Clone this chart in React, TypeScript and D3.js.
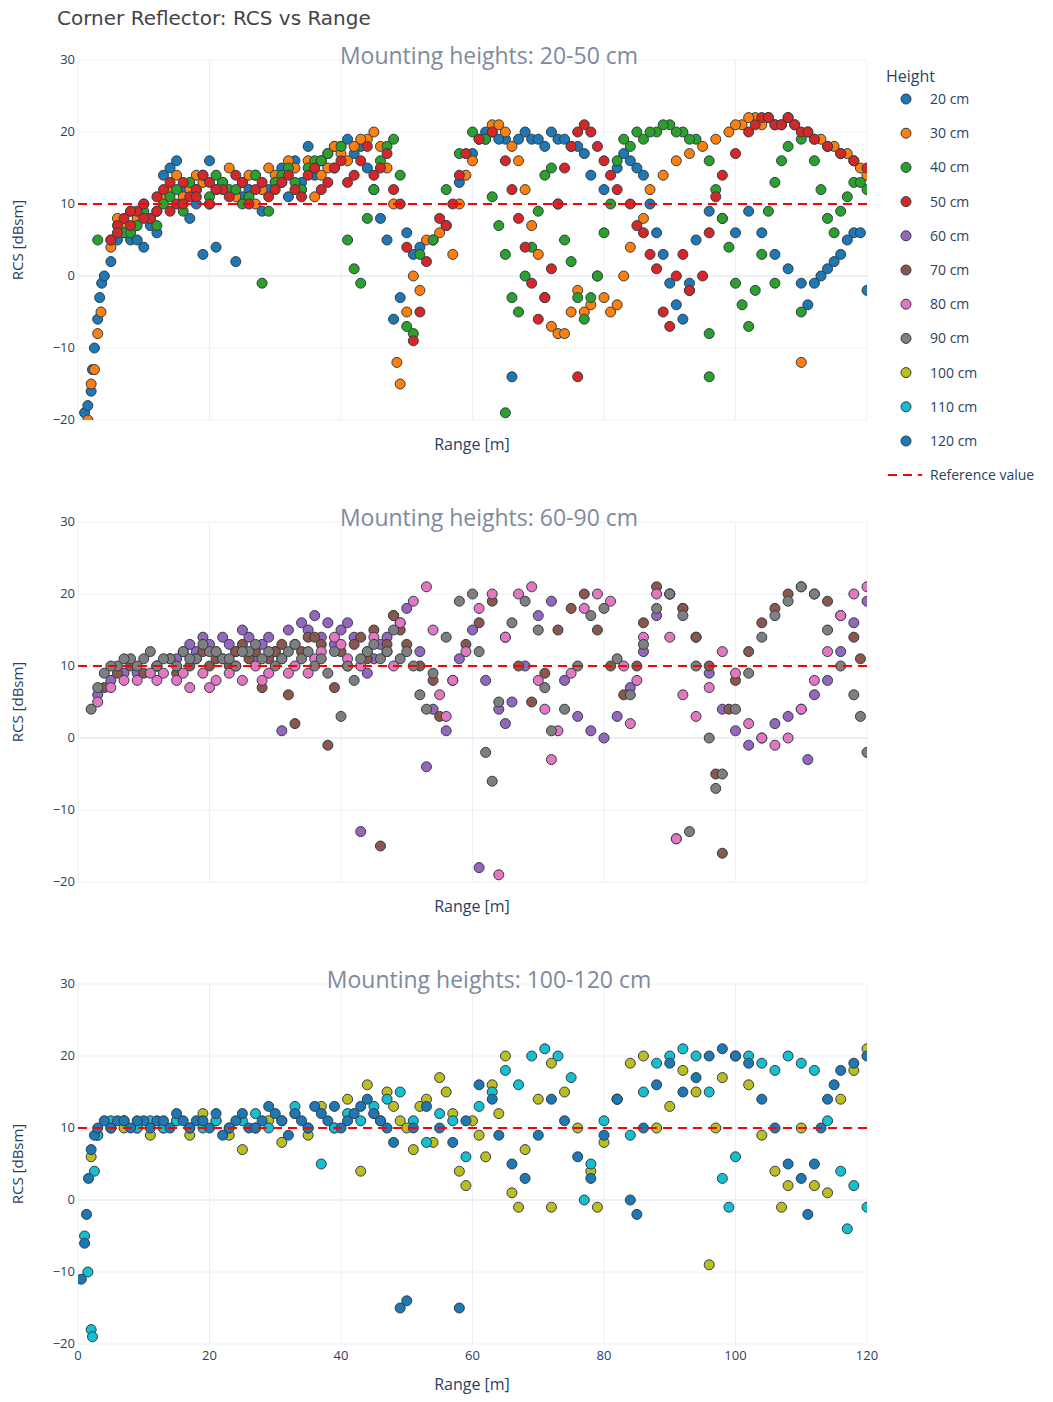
import React from "react";
import * as d3 from "d3";

const heights = ["20 cm","30 cm","40 cm","50 cm","60 cm","70 cm","80 cm","90 cm","100 cm","110 cm","120 cm"];
const colors = ["#1f77b4","#ff7f0e","#2ca02c","#d62728","#9467bd","#8c564b","#e377c2","#7f7f7f","#bcbd22","#17becf","#1f77b4"];
const panelTitles = ["Mounting heights: 20-50 cm","Mounting heights: 60-90 cm","Mounting heights: 100-120 cm"];
const panelSeries = [[0,1,2,3],[4,5,6,7],[8,9,10]];
const xTicks = [0,20,40,60,80,100,120];
const yTicks = [-20,-10,0,10,20,30];
const referenceValue = 10;

const s20 = [1,-19,1.5,-18,2,-16,2.2,-13,2.5,-10,3,-6,3.3,-3,3.6,-1,4,0,5,2,6,5,8,5,10,4,12,6,13,14,15,16,17,8,19,3,20,16,21,4,24,2,26,12,28,9,30,13,32,11,34,13,36,14,38,17,39,18,40,18,42,17,44,15,45,12,46,8,47,5,48,-6,49,-3,50,6,51,3,52,4,54,5,56,7,58,13,60,17,61,19,63,20,65,19,67,19,69,19,71,18,73,19,75,18,77,17,78,14,80,12,82,15,84,16,86,14,87,10,88,6,89,3,90,-1,91,-4,92,-6,93,-1,94,5,96,9,98,8,100,6,102,9,104,6,106,3,108,1,110,-1,111,-4,112,-1,113,0,114,1,115,2,116,3,117,5,118,6,119,6,120,-2,66,-14,7,6,9,5,11,7,14,15,16,12,18,10,22,13,25,11,27,14,29,12,31,15,33,16,35,18,37,16,41,19,43,18,62,20,64,19,68,20,70,19,72,20,74,19,76,18,83,17,85,15];
const s30 = [1.5,-20,2,-15,2.5,-13,3,-8,3.5,-5,5,4,7,7,9,8,11,8,13,11,15,14,17,12,19,13,21,12,23,15,25,13,27,10,30,14,32,16,34,12,36,11,38,15,40,17,42,18,44,19,45,20,46,18,47,15,48,10,48.5,-12,49,-15,50,-5,51,0,52,-2,53,5,55,6,57,3,58,10,59,14,60,16,62,19,63,21,64,21,65,20,66,18,67,16,68,12,69,7,70,3,71,-3,72,-7,73,-8,74,-8,75,-5,76,-2,77,-5,78,-4,79,0,80,-3,81,-5,82,-4,83,0,84,4,86,8,87,12,89,14,91,16,93,17,95,18,97,19,99,20,101,21,103,22,105,22,107,21,109,21,111,20,113,19,115,18,117,17,119,15,120,14,110,-12,93,-2,6,8,8,9,10,10,12,9,14,12,16,11,18,14,20,10,22,13,24,11,26,14,28,12,29,15,31,13,33,15,35,16,37,14,39,18,41,16,43,19,100,21,102,22,104,21,106,21,108,22,112,19,114,18,116,17,118,16];
const s40 = [3,5,5,5,7,6,9,7,11,8,13,10,15,12,17,13,19,14,21,14,23,12,25,10,27,14,28,-1,30,13,32,15,34,12,36,16,38,17,40,18,41,5,42,1,43,-1,44,8,45,12,46,16,47,18,48,19,49,14,50,-7,51,-8,52,3,54,5,56,12,58,17,60,20,62,19,63,11,64,7,65,3,66,-3,67,-5,68,0,69,4,70,9,71,14,72,15,73,10,74,5,75,2,76,-3,77,-6,78,-3,79,0,80,6,81,10,82,16,84,18,86,19,88,20,90,21,92,20,94,19,96,16,97,12,98,8,99,4,100,-1,101,-4,102,-7,103,-2,104,3,105,9,106,13,107,16,108,18,110,19,112,16,113,12,114,8,115,6,116,9,117,11,118,13,119,13,120,12,65,-19,96,-14,96,-8,106,-1,110,-5,8,6,10,9,12,7,14,11,16,9,18,12,20,11,22,13,24,12,26,11,29,9,31,14,33,13,35,15,37,16,39,15,83,19,85,20,87,20,89,21,91,20,93,19];
const s50 = [5,5,6,7,7,8,8,7,9,9,10,10,11,8,12,11,13,12,14,9,15,10,16,13,17,11,18,12,19,14,20,13,22,12,24,14,26,10,28,13,30,12,32,14,34,11,36,15,38,13,40,16,42,14,44,18,46,15,47,17,48,12,49,10,50,4,51,-9,52,-5,53,2,55,8,56,7,57,10,58,14,59,17,61,19,63,20,65,16,66,12,67,8,68,4,69,-1,70,-6,71,-3,72,1,73,10,74,15,75,18,76,20,77,21,78,20,79,18,80,16,81,14,82,12,84,10,85,7,86,6,87,3,88,1,89,-5,90,-7,91,0,92,3,93,-2,95,0,96,6,97,11,98,14,100,17,102,20,104,22,106,21,108,22,110,20,112,19,114,18,116,17,118,16,120,15,76,-14,6,6,8,9,10,8,12,9,14,13,16,10,18,11,20,10,21,12,23,11,25,13,27,12,29,11,31,13,33,12,35,14,37,12,39,15,41,13,43,16,45,14,103,21,105,22,107,21,109,21,111,20];
const s60 = [3,6,5,8,7,9,9,9,12,10,15,11,18,12,20,13,22,14,24,12,26,14,28,13,30,12,32,15,31,1,34,16,36,17,38,16,40,15,42,14,43,-13,44,9,46,13,48,17,50,18,52,12,53,-4,54,4,56,1,58,11,60,15,61,-18,62,8,64,4,65,2,66,5,68,10,70,17,72,19,74,8,76,3,78,1,80,0,82,3,84,7,86,12,88,17,90,20,91,-14,92,18,94,14,96,9,98,4,100,1,102,-1,104,0,106,2,108,3,110,4,112,6,114,8,116,12,118,16,120,19,111,-3,17,13,19,14,21,12,23,13,25,15,27,11,29,14,33,13,35,15,37,14,39,13,41,16,45,11,47,14,49,16];
const s70 = [4,7,6,9,8,10,10,9,12,10,14,11,16,12,18,11,20,10,22,11,24,12,26,11,28,7,30,12,32,6,33,2,35,14,37,13,38,-1,39,7,41,10,43,14,45,15,46,-15,48,17,50,13,52,10,54,8,55,3,57,8,59,13,61,16,63,19,65,14,67,10,69,5,71,9,73,15,75,18,77,20,79,15,81,10,83,6,85,10,86,16,88,21,90,20,92,18,94,14,96,10,97,-5,98,-16,99,4,100,8,102,12,104,16,106,18,108,20,110,21,112,20,114,19,116,17,118,14,119,11,15,9,17,10,19,12,21,11,23,10,25,13,27,12,29,11,31,13,34,12,36,14,40,12,42,13,44,11,47,13,49,15];
const s80 = [3,5,5,7,7,8,9,8,11,9,13,9,15,8,17,7,19,9,21,8,23,9,25,8,27,10,29,9,31,11,33,10,35,9,37,12,39,14,41,11,43,10,45,14,47,12,49,16,51,19,53,21,54,15,55,6,56,3,57,8,59,12,61,18,63,20,64,-19,65,14,67,20,69,21,70,8,71,4,72,-3,73,1,75,9,77,18,79,20,81,19,83,10,84,2,85,8,86,14,88,20,90,14,91,-14,92,6,94,3,96,7,98,12,100,9,102,2,104,0,106,-1,108,0,110,4,112,8,114,12,116,17,118,20,120,21,12,8,16,9,20,7,24,10,28,8,32,9,36,11,40,13,44,12,48,10];
const s90 = [2,4,3,7,4,9,6,10,8,11,10,11,12,10,14,11,16,12,18,11,20,12,22,11,24,10,26,12,28,11,30,10,32,12,34,11,36,10,38,9,40,3,42,8,44,12,46,11,48,15,50,12,51,10,52,6,53,4,54,9,56,14,58,19,60,20,61,12,62,-2,63,-6,64,5,66,16,68,19,70,15,71,7,72,1,74,4,76,10,78,17,80,18,82,11,84,6,86,13,88,18,90,20,92,17,93,-13,94,10,96,0,97,-7,98,-5,100,4,102,9,104,14,106,17,108,19,110,21,112,20,114,15,116,10,118,6,119,3,120,-2,5,10,7,11,9,10,11,12,13,11,15,10,17,11,19,13,21,12,23,11,25,12,27,13,29,12,31,11,33,13,35,12,37,11,39,12,41,10,43,11,45,13,47,12,49,11];
const s100 = [2,6,3,9,5,10,7,10,9,10,11,9,13,10,15,11,17,9,19,12,21,11,23,9,25,7,27,10,29,11,31,8,33,12,35,9,37,13,39,10,41,14,43,4,45,12,47,15,49,11,51,7,53,14,55,17,57,12,58,4,59,2,61,9,63,16,65,20,66,1,67,-1,68,7,70,14,72,19,74,15,76,10,78,4,79,-1,80,8,82,14,84,19,86,20,88,10,90,13,92,18,94,15,96,-9,97,10,98,17,100,20,102,16,104,9,106,4,107,-1,108,2,110,10,112,2,114,1,116,14,118,18,120,21,72,-1,44,16,46,11,48,13,50,10,52,13,54,8,56,15,60,11,62,6,64,12];
const s110 = [1,-5,1.5,-10,2,-18,2.2,-19,2.5,4,3,9,5,11,7,11,9,10,11,11,13,10,15,11,17,10,19,10,21,11,23,10,25,11,27,12,29,10,31,11,33,13,35,10,37,5,39,10,41,12,43,11,45,13,47,14,49,15,51,11,53,8,55,12,57,11,59,6,61,13,63,15,65,18,67,16,69,20,71,21,73,20,75,17,77,0,78,5,80,11,82,14,84,9,86,15,88,19,90,20,92,21,94,20,96,15,98,3,99,-1,100,6,102,20,104,19,106,18,108,20,110,19,112,18,114,11,116,4,117,-4,118,2,120,-1];
const s120 = [0.5,-11,1,-6,1.3,-2,1.6,3,2,7,2.5,9,3,10,4,11,6,11,8,10,10,11,12,11,14,10,16,11,18,11,20,10,22,9,24,11,26,10,28,11,30,12,32,9,34,11,36,13,38,11,40,10,42,12,44,14,46,11,48,8,49,-15,50,-14,51,10,53,13,55,10,57,8,58,-15,59,11,61,16,63,14,64,9,66,5,68,3,70,9,72,14,74,11,76,6,78,3,80,9,82,14,84,0,85,-2,86,10,88,16,90,19,92,15,94,17,96,20,98,21,100,20,102,19,104,14,106,10,108,5,110,3,111,-2,112,5,113,10,114,14,115,16,116,18,118,19,120,20,5,10,7,11,9,11,11,10,13,11,15,12,17,10,19,11,21,12,23,10,25,12,27,10,29,13,31,11,33,12,35,10,37,12,39,13,41,11,43,13,45,12,47,10];
const seriesData = [s20,s30,s40,s50,s60,s70,s80,s90,s100,s110,s120];

const panelTops = [60, 522, 984];
const plotH = 360;
const x0 = 78, x1 = 867;
const font = "'Open Sans', 'Noto Sans', sans-serif";
const textCol = "#2a3f5f";
const minus = (v: number) => (v < 0 ? "\u2212" + Math.abs(v) : String(v));

export default function App() {
  const x = d3.scaleLinear().domain([0, 120]).range([x0, x1]);
  return (
    <svg width={1053} height={1402} style={{ position: "absolute", left: 0, top: 0, background: "#fff" }} fontFamily={font}>
      <defs>
        {panelTops.map((t, i) => (
          <clipPath id={"clip" + i} key={i}><rect x={x0} y={t} width={x1 - x0} height={plotH} /></clipPath>
        ))}
      </defs>
      <text x={57} y={25} fontSize={20} fill="#444" fontFamily="'DejaVu Sans', sans-serif">Corner Reflector: RCS vs Range</text>
      {panelTops.map((top, pi) => {
        const y = d3.scaleLinear().domain([-20, 30]).range([top + plotH, top]);
        return (
          <g key={pi}>
            {xTicks.map(t => <line key={"gx" + t} x1={x(t)} x2={x(t)} y1={top} y2={top + plotH} stroke="#ebf0f8" />)}
            {yTicks.map(t => <line key={"gy" + t} x1={x0} x2={x1} y1={y(t)} y2={y(t)} stroke="#ebf0f8" strokeWidth={t === 0 ? 2 : 1} />)}
            {yTicks.map(t => <text key={"ty" + t} x={x0 - 3} y={y(t) + 4} fontSize={13} fill={textCol} textAnchor="end">{minus(t)}</text>)}
            {pi === 2 && xTicks.map(t => <text key={"tx" + t} x={x(t)} y={top + plotH + 16} fontSize={13} fill={textCol} textAnchor="middle">{t}</text>)}
            <text x={489} y={top + 4} fontSize={23} fill="#7f8a9b" textAnchor="middle">{panelTitles[pi]}</text>
            <text x={472} y={top + (pi === 2 ? 406 : 390)} fontSize={16} fill={textCol} textAnchor="middle">Range [m]</text>
            <text transform={`translate(23,${top + 180}) rotate(-90)`} fontSize={15} fill={textCol} textAnchor="middle">RCS [dBsm]</text>
            <g clipPath={`url(#clip${pi})`}>
              {panelSeries[pi].map(si => {
                const arr = seriesData[si];
                const pts = [];
                for (let k = 0; k < arr.length; k += 2) pts.push([arr[k], arr[k + 1]]);
                return (
                  <g key={si}>
                    {pts.map((p, k) => <circle key={k} cx={x(p[0])} cy={y(p[1])} r={5} fill={colors[si]} stroke="#2f3e46" strokeWidth={1} />)}
                  </g>
                );
              })}
              <line x1={x0} x2={x1} y1={y(referenceValue)} y2={y(referenceValue)} stroke="#ff0000" strokeWidth={2} strokeDasharray="9,6" />
            </g>
          </g>
        );
      })}
      <text x={886} y={82} fontSize={16} fill={textCol}>Height</text>
      {heights.map((h, i) => (
        <g key={h}>
          <circle cx={906} cy={99 + i * 34.2} r={5} fill={colors[i]} stroke="#2f3e46" />
          <text x={930} y={104 + i * 34.2} fontSize={14} fill={textCol}>{h}</text>
        </g>
      ))}
      <line x1={888} x2={922} y1={475} y2={475} stroke="#ff0000" strokeWidth={2} strokeDasharray="9,6" />
      <text x={930} y={480} fontSize={14} fill={textCol}>Reference value</text>
    </svg>
  );
}
